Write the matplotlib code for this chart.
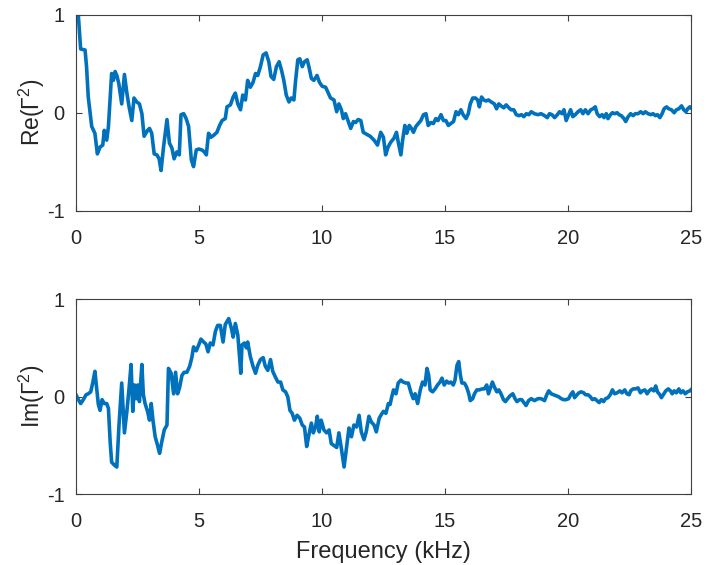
import matplotlib
matplotlib.use("Agg")
import matplotlib.pyplot as plt

plt.rcParams["font.family"] = ["Liberation Sans", "DejaVu Sans"]
plt.rcParams["mathtext.fontset"] = "custom"
plt.rcParams["mathtext.rm"] = "Liberation Sans"
plt.rcParams["axes.unicode_minus"] = False

# Real part of Gamma^2 versus frequency (kHz)
freq_re = [
    0.00, 0.10, 0.19, 0.37, 0.43, 0.50, 0.64, 0.77, 0.87, 0.98, 1.09, 1.15, 1.25, 1.32,
    1.45, 1.52, 1.59, 1.66, 1.74, 1.86, 1.97, 2.07, 2.16, 2.27, 2.36, 2.47, 2.58, 2.68,
    2.77, 2.91, 2.99, 3.08, 3.18, 3.29, 3.38, 3.46, 3.56, 3.70, 3.80, 3.90, 3.99, 4.10,
    4.20, 4.27, 4.38, 4.48, 4.58, 4.69, 4.78, 4.89, 4.99, 5.12, 5.22, 5.30, 5.39, 5.49,
    5.60, 5.73, 5.84, 5.94, 6.07,
    6.14, 6.28, 6.39, 6.48, 6.58, 6.69, 6.78, 6.89, 6.98, 7.09, 7.20, 7.30, 7.39, 7.50,
    7.61, 7.73, 7.84, 7.93, 8.04, 8.15, 8.26, 8.36, 8.45, 8.55, 8.66, 8.75, 8.86, 8.93,
    9.02, 9.10, 9.20, 9.29, 9.40, 9.47, 9.57, 9.67, 9.80, 9.90, 10.01, 10.15, 10.24,
    10.35, 10.49, 10.60, 10.69, 10.79, 10.87, 10.96, 11.06, 11.17, 11.28, 11.37, 11.47,
    11.58, 11.68, 11.82, 11.96, 12.12, 12.26,
    12.39, 12.50, 12.59, 12.69, 12.80, 12.93, 13.03, 13.11, 13.21, 13.28, 13.37, 13.45,
    13.55, 13.64, 13.72, 13.82, 13.92, 14.02, 14.13, 14.23, 14.32, 14.43, 14.53, 14.63,
    14.72, 14.84, 14.94, 15.04, 15.14, 15.24, 15.35, 15.45, 15.55, 15.65, 15.74, 15.86,
    15.95, 16.03, 16.13, 16.24, 16.33, 16.40, 16.49, 16.58, 16.67, 16.77, 16.88, 17.01,
    17.10, 17.19, 17.28, 17.39, 17.49, 17.60, 17.69, 17.80, 17.90, 18.01, 18.11, 18.21,
    18.31, 18.41,
    18.51, 18.64, 18.78, 18.91, 19.05, 19.16, 19.25, 19.35, 19.46, 19.57, 19.66, 19.76,
    19.84, 19.93, 20.03, 20.11, 20.20, 20.30, 20.41, 20.52, 20.61, 20.71, 20.82, 20.93,
    21.02, 21.11, 21.19, 21.29, 21.39, 21.47, 21.56, 21.63, 21.73, 21.81, 21.90, 22.00,
    22.08, 22.17, 22.28, 22.35, 22.45, 22.55, 22.65, 22.74, 22.85, 22.96, 23.06, 23.15,
    23.26, 23.37, 23.46, 23.56, 23.64, 23.74, 23.83, 23.91, 24.01, 24.10, 24.21, 24.32,
    24.41, 24.51, 24.62, 24.71, 24.80, 24.87, 24.96, 25.00,
]
re_gamma2 = [
    1.00, 0.98, 0.65, 0.64, 0.47, 0.16, -0.14, -0.21, -0.42, -0.35, -0.33, -0.18, -0.28, -0.14,
    0.40, 0.33, 0.42, 0.38, 0.30, 0.09, 0.39, 0.20, 0.06, -0.08, 0.15, 0.11, 0.09, -0.01,
    -0.24, -0.18, -0.16, -0.21, -0.42, -0.43, -0.47, -0.59, -0.35, -0.07, -0.31, -0.36, -0.47, -0.40,
    -0.43, -0.02, -0.01, -0.06, -0.14, -0.48, -0.55, -0.38, -0.37, -0.38, -0.40, -0.43, -0.21, -0.25,
    -0.23, -0.20, -0.13, -0.08, -0.06,
    0.06, 0.08, 0.16, 0.20, 0.09, 0.03, 0.18, 0.13, 0.33, 0.26, 0.31, 0.40, 0.38, 0.47,
    0.59, 0.61, 0.52, 0.37, 0.34, 0.47, 0.52, 0.43, 0.33, 0.18, 0.11, 0.15, 0.13, 0.33,
    0.54, 0.55, 0.47, 0.52, 0.54, 0.47, 0.35, 0.33, 0.38, 0.31, 0.27, 0.26, 0.21,
    0.15, 0.13, 0.01, 0.09, 0.03, -0.06, -0.01, -0.08, -0.16, -0.09, -0.10, -0.07,
    -0.08, -0.20, -0.22, -0.24, -0.28, -0.33,
    -0.20, -0.25, -0.43, -0.35, -0.30, -0.26, -0.20, -0.31, -0.43, -0.28, -0.13, -0.21,
    -0.13, -0.16, -0.20, -0.14, -0.11, -0.08, -0.02, -0.01, -0.13, -0.10, -0.11, -0.06,
    -0.08, -0.02, -0.08, -0.08, -0.13, -0.11, -0.09, 0.01, -0.02, 0.03, -0.02, -0.06,
    -0.01, 0.09, 0.15, 0.15, 0.13, 0.06, 0.16, 0.13, 0.12, 0.13, 0.11, 0.09,
    0.04, 0.09, 0.07, 0.05, 0.08, 0.05, 0.03, 0.03, -0.02, -0.03, -0.02, -0.04,
    -0.01, -0.02,
    0.01, -0.01, -0.02, -0.01, -0.03, -0.05, -0.01, -0.02, -0.05, -0.02, 0.01, -0.01,
    0.03, -0.08, -0.02, 0.03, -0.04, -0.02, 0.01, 0.03, -0.01, 0.03, -0.01, 0.03,
    0.04, 0.06, -0.01, -0.04, -0.02, -0.05, -0.01, -0.06, -0.02, 0.00, -0.01, 0.00,
    -0.02, -0.03, -0.06, -0.09, -0.04, -0.01, -0.03, -0.01, -0.01, 0.01, -0.01, 0.01,
    -0.01, -0.02, -0.01, -0.03, -0.02, -0.05, -0.01, 0.04, 0.06, 0.04, 0.03, 0.00,
    0.03, 0.04, 0.07, 0.03, 0.01, 0.04, 0.06, 0.05,
]

# Imaginary part of Gamma^2 versus frequency (kHz)
freq_im = [
    0.00, 0.10, 0.19, 0.30, 0.41, 0.50, 0.60, 0.68, 0.77, 0.84, 0.91, 0.98, 1.06, 1.15,
    1.25, 1.32, 1.39, 1.45, 1.56, 1.66, 1.75, 1.86, 1.97, 2.07, 2.16, 2.24, 2.31, 2.38,
    2.45, 2.51, 2.58, 2.68, 2.74, 2.81, 2.91, 2.99, 3.06, 3.13, 3.22, 3.32, 3.40, 3.49,
    3.59, 3.70, 3.76, 3.87, 3.97, 4.05, 4.13, 4.21, 4.31, 4.40, 4.51, 4.62, 4.71, 4.78,
    4.89, 4.99, 5.08, 5.19, 5.28, 5.37, 5.46, 5.57, 5.67, 5.76, 5.87, 5.98, 6.07,
    6.21, 6.32, 6.39, 6.48, 6.58, 6.66, 6.70, 6.75, 6.85, 6.93, 6.98, 7.09, 7.20, 7.30,
    7.39, 7.50, 7.61, 7.70, 7.80, 7.91, 8.00, 8.11, 8.21, 8.32, 8.41, 8.52, 8.61, 8.70,
    8.79, 8.88, 8.99, 9.10, 9.20, 9.29, 9.38, 9.47, 9.57, 9.65, 9.74, 9.81, 9.89, 9.97,
    10.08, 10.19, 10.29, 10.38, 10.49, 10.60, 10.69, 10.79, 10.90, 11.01, 11.10, 11.20,
    11.30, 11.41, 11.51, 11.60, 11.71, 11.80, 11.91, 12.01, 12.12, 12.21, 12.33,
    12.42, 12.50, 12.60, 12.70, 12.77, 12.84, 12.91, 13.01, 13.10, 13.21, 13.30, 13.41,
    13.51, 13.61, 13.71, 13.79, 13.89, 14.00, 14.09, 14.19, 14.27, 14.34, 14.40, 14.50,
    14.60, 14.70, 14.80, 14.88, 14.97, 15.07, 15.15, 15.24, 15.34, 15.41, 15.49, 15.56,
    15.63, 15.69, 15.79, 15.88, 15.97, 16.03, 16.13, 16.20, 16.30, 16.40, 16.51, 16.60,
    16.70, 16.77, 16.85, 16.93, 17.01, 17.11, 17.19, 17.28, 17.38, 17.46, 17.55, 17.65,
    17.76, 17.85, 17.93, 18.03, 18.12, 18.21, 18.30, 18.40,
    18.51, 18.64, 18.78, 18.91, 19.05, 19.14, 19.22, 19.32, 19.42, 19.52, 19.62, 19.73,
    19.82, 19.93, 20.03, 20.11, 20.20, 20.27, 20.37, 20.45, 20.54, 20.64, 20.72, 20.82,
    20.91, 21.00, 21.09, 21.18, 21.27, 21.36, 21.45, 21.53, 21.63, 21.72, 21.81, 21.90,
    22.00, 22.11, 22.20, 22.31, 22.40, 22.49, 22.55, 22.65, 22.75, 22.85, 22.95, 23.03,
    23.13, 23.22, 23.30, 23.40, 23.49, 23.57, 23.64, 23.74, 23.80, 23.90, 23.98, 24.08,
    24.17, 24.24, 24.32, 24.41, 24.51, 24.59, 24.68, 24.77, 24.86, 24.96, 25.00,
]
im_gamma2 = [
    0.02, -0.03, -0.07, -0.03, 0.02, 0.03, 0.05, 0.14, 0.26, 0.09, -0.08, -0.14, -0.03, -0.07,
    -0.07, -0.12, -0.46, -0.67, -0.70, -0.72, -0.29, 0.14, -0.37, -0.15, 0.09, 0.33, -0.15, 0.12,
    -0.02, 0.12, -0.05, 0.33, 0.02, -0.07, -0.15, -0.24, -0.07, -0.24, -0.41, -0.50, -0.58, -0.46,
    -0.34, -0.29, 0.29, 0.24, 0.03, 0.25, 0.03, 0.09, 0.22, 0.25, 0.25, 0.31, 0.40, 0.51,
    0.47, 0.53, 0.59, 0.56, 0.54, 0.46, 0.55, 0.53, 0.67, 0.73, 0.73, 0.56, 0.74,
    0.80, 0.70, 0.61, 0.75, 0.63, 0.38, 0.24, 0.53, 0.55, 0.50, 0.56, 0.41, 0.31, 0.24,
    0.32, 0.38, 0.40, 0.31, 0.27, 0.38, 0.26, 0.20, 0.15, 0.15, 0.07, 0.05, 0.00, -0.14,
    -0.17, -0.24, -0.19, -0.22, -0.29, -0.31, -0.51, -0.39, -0.27, -0.37, -0.31, -0.20, -0.36, -0.24,
    -0.34, -0.37, -0.34, -0.48, -0.50, -0.52, -0.37, -0.53, -0.72, -0.50, -0.32, -0.41,
    -0.29, -0.31, -0.19, -0.36, -0.44, -0.36, -0.20, -0.26, -0.29, -0.36, -0.22,
    -0.18, -0.15, -0.17, -0.07, -0.08, 0.00, 0.07, 0.03, 0.14, 0.17, 0.15, 0.14,
    0.14, 0.05, -0.02, 0.03, -0.07, 0.07, 0.15, 0.12, 0.29, 0.22, 0.07, 0.05,
    0.08, 0.12, 0.15, 0.19, 0.12, 0.16, 0.14, 0.15, 0.12, 0.17, 0.32, 0.36,
    0.22, 0.14, 0.14, 0.10, 0.03, -0.04, -0.02, 0.03, 0.07, 0.07, 0.08, 0.08,
    0.12, 0.03, 0.09, 0.15, 0.10, 0.05, 0.07, 0.03, -0.03, -0.05, -0.02, 0.01,
    0.03, -0.02, -0.05, -0.03, -0.03, -0.06, -0.09, -0.04,
    -0.02, -0.04, -0.02, -0.02, -0.04, 0.02, 0.06, 0.03, 0.02, 0.01, 0.00, -0.02,
    -0.03, -0.03, -0.02, 0.02, 0.05, -0.01, 0.02, 0.04, 0.05, 0.04, 0.02, 0.02,
    0.00, -0.03, -0.02, -0.04, -0.06, -0.03, -0.05, -0.02, -0.01, 0.02, 0.07, 0.03,
    0.04, 0.06, 0.04, 0.07, 0.03, 0.02, 0.06, 0.08, 0.08, 0.09, 0.04, 0.06,
    0.07, 0.03, 0.06, 0.08, 0.06, 0.11, 0.05, 0.02, -0.01, 0.03, 0.06, 0.08,
    0.06, 0.03, 0.06, 0.04, 0.08, 0.04, 0.06, 0.03, 0.05, 0.06, 0.07,
]

x_ticks = [0, 5, 10, 15, 20, 25]
y_ticks = [-1, 0, 1]
line_color = "#0072BD"
axis_color = "#404040"
text_color = "#262626"

fig = plt.figure(figsize=(7.06, 5.65), dpi=100)
ax_re = fig.add_axes([0.1076, 0.627, 0.871, 0.347])
ax_im = fig.add_axes([0.1076, 0.125, 0.871, 0.3457])

for ax, xs, ys, label in [
    (ax_re, freq_re, re_gamma2, "Re(Γ$^{2}$)"),
    (ax_im, freq_im, im_gamma2, "Im(Γ$^{2}$)"),
]:
    ax.plot(xs, ys, color=line_color, linewidth=2.6, solid_joinstyle="round")
    ax.set_xlim(0, 25)
    ax.set_ylim(-1, 1)
    ax.set_xticks(x_ticks)
    ax.set_yticks(y_ticks)
    ax.tick_params(direction="in", length=4, width=0.8, colors=axis_color,
                   labelcolor=text_color, labelsize=14.5, top=True, right=True)
    ax.tick_params(axis="x", pad=13)
    ax.tick_params(axis="y", pad=8)
    for sp in ax.spines.values():
        sp.set_color(axis_color)
        sp.set_linewidth(0.8)
    ax.set_ylabel(label, fontsize=16.5, color=text_color, labelpad=0)

ax_im.set_xlabel("Frequency (kHz)", fontsize=17, color=text_color, labelpad=7)

fig.savefig("out.png", dpi=100)
